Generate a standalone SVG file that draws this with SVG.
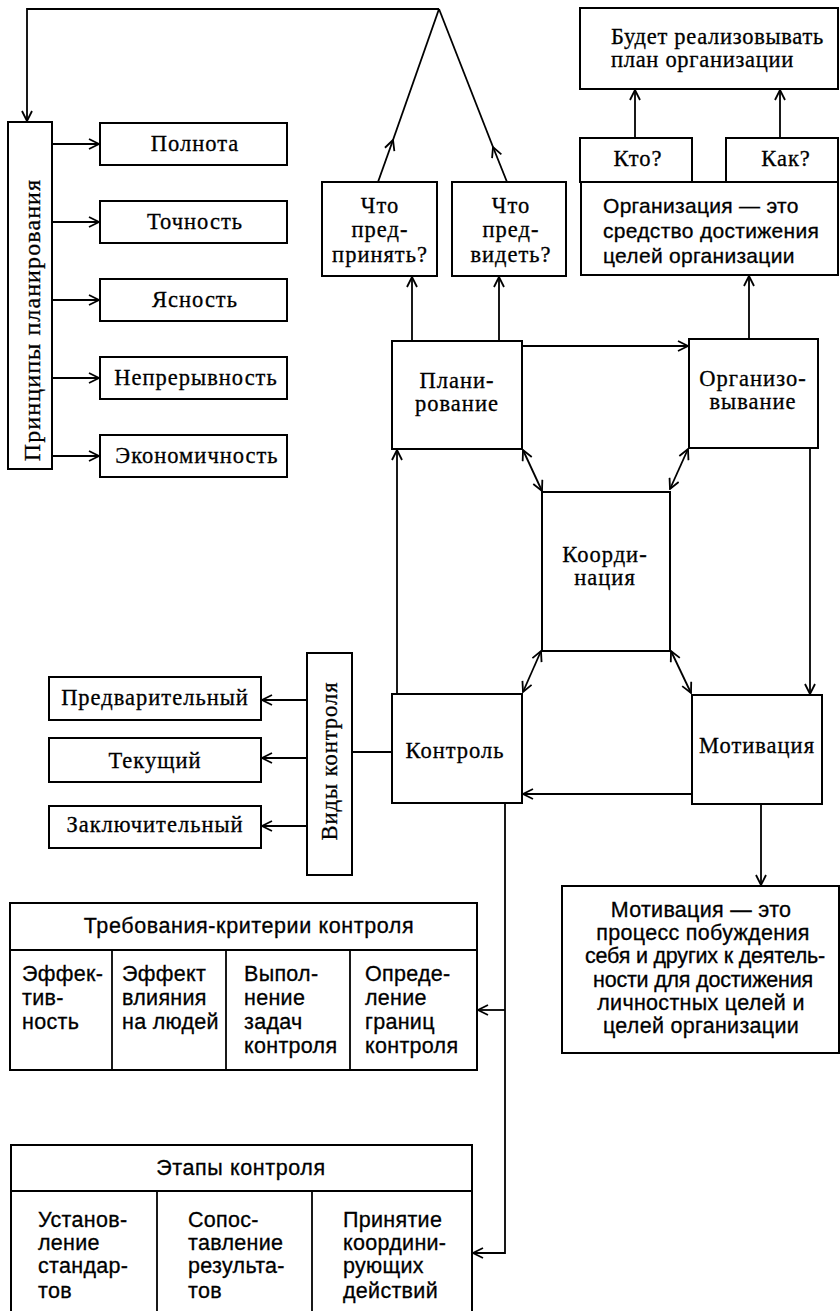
<svg xmlns="http://www.w3.org/2000/svg" width="840" height="1311" viewBox="0 0 840 1311">
  <style>
    .box { fill: #fff; stroke: #000; stroke-width: 2; }
    .ln { fill: none; stroke: #000; stroke-width: 1.8; }
    text { fill: #000; stroke: #000; stroke-width: 0.3; }
    .sf { font-family: "Liberation Serif", "DejaVu Serif", serif; font-size: 22.5px; letter-spacing: 1px; }
    .ss { font-family: "Liberation Sans", "DejaVu Sans", sans-serif; font-size: 21.5px; letter-spacing: 0.3px; }
    .so { font-family: "Liberation Sans", "DejaVu Sans", sans-serif; font-size: 21px; letter-spacing: 0.3px; }
    .c { text-anchor: middle; }
    .tight { letter-spacing: -0.2px; }
  </style>
  <defs>
    <marker id="arr" viewBox="0 0 12 12" refX="11" refY="6" markerWidth="12" markerHeight="12" markerUnits="userSpaceOnUse" orient="auto-start-reverse">
      <path d="M1,1 L11,6 L1,11" fill="none" stroke="#000" stroke-width="1.8"/>
    </marker>
  </defs>

  <rect width="840" height="1311" fill="#fff"/>

  <!-- connectors -->
  <g id="connectors">
    <!-- feedback from the two questions back to the planning principles -->
    <polyline class="ln" points="439,9 27,9 27,121" marker-end="url(#arr)"/>
    <line class="ln" x1="378" y1="182" x2="393" y2="140" marker-end="url(#arr)"/>
    <line class="ln" x1="393" y1="140" x2="439" y2="9"/>
    <line class="ln" x1="507" y1="182" x2="493" y2="147" marker-end="url(#arr)"/>
    <line class="ln" x1="493" y1="147" x2="439" y2="9"/>

    <!-- principles -> items -->
    <line class="ln" x1="53" y1="144" x2="99" y2="144" marker-end="url(#arr)"/>
    <line class="ln" x1="53" y1="222" x2="99" y2="222" marker-end="url(#arr)"/>
    <line class="ln" x1="53" y1="300" x2="99" y2="300" marker-end="url(#arr)"/>
    <line class="ln" x1="53" y1="378" x2="99" y2="378" marker-end="url(#arr)"/>
    <line class="ln" x1="53" y1="456" x2="99" y2="456" marker-end="url(#arr)"/>

    <!-- planning -> questions -->
    <line class="ln" x1="412" y1="341" x2="412" y2="277" marker-end="url(#arr)"/>
    <line class="ln" x1="499" y1="341" x2="499" y2="277" marker-end="url(#arr)"/>

    <!-- organisation block -->
    <line class="ln" x1="635" y1="138" x2="635" y2="90" marker-end="url(#arr)"/>
    <line class="ln" x1="780" y1="138" x2="780" y2="90" marker-end="url(#arr)"/>
    <line class="ln" x1="749" y1="339" x2="749" y2="276" marker-end="url(#arr)"/>

    <!-- main cycle -->
    <line class="ln" x1="522" y1="346" x2="688" y2="346" marker-end="url(#arr)"/>
    <line class="ln" x1="810" y1="448" x2="810" y2="694" marker-end="url(#arr)"/>
    <line class="ln" x1="692" y1="794" x2="523" y2="794" marker-end="url(#arr)"/>
    <line class="ln" x1="397" y1="694" x2="397" y2="450" marker-end="url(#arr)"/>

    <!-- coordination links -->
    <line class="ln" x1="523" y1="450" x2="542" y2="491" marker-start="url(#arr)" marker-end="url(#arr)"/>
    <line class="ln" x1="688" y1="449" x2="670" y2="489" marker-start="url(#arr)" marker-end="url(#arr)"/>
    <line class="ln" x1="541" y1="651" x2="523" y2="692" marker-start="url(#arr)" marker-end="url(#arr)"/>
    <line class="ln" x1="671" y1="651" x2="691" y2="693" marker-start="url(#arr)" marker-end="url(#arr)"/>

    <!-- motivation -> definition -->
    <line class="ln" x1="761" y1="804" x2="761" y2="885" marker-end="url(#arr)"/>

    <!-- control -> kinds of control -->
    <line class="ln" x1="352" y1="752" x2="392" y2="752"/>
    <line class="ln" x1="307" y1="700" x2="262" y2="700" marker-end="url(#arr)"/>
    <line class="ln" x1="307" y1="758" x2="262" y2="758" marker-end="url(#arr)"/>
    <line class="ln" x1="307" y1="826" x2="262" y2="826" marker-end="url(#arr)"/>

    <!-- control -> requirements and stages -->
    <polyline class="ln" points="505,803 505,1253 473,1253" marker-end="url(#arr)"/>
    <line class="ln" x1="505" y1="1010" x2="478" y2="1010" marker-end="url(#arr)"/>
  </g>

  <!-- planning principles -->
  <g id="principles">
    <rect class="box" x="8" y="122" width="44" height="347"/>
    <text class="sf c" style="font-size:24px;letter-spacing:1.1px" transform="translate(40,320) rotate(-90)">Принципы  планирования</text>
  </g>
  <g id="p-completeness">
    <rect class="box" x="100" y="123" width="187" height="42"/>
    <text class="sf c" x="195" y="151">Полнота</text>
  </g>
  <g id="p-accuracy">
    <rect class="box" x="100" y="201" width="187" height="42"/>
    <text class="sf c" x="195" y="229">Точность</text>
  </g>
  <g id="p-clarity">
    <rect class="box" x="100" y="279" width="187" height="42"/>
    <text class="sf c" x="195" y="307">Ясность</text>
  </g>
  <g id="p-continuity">
    <rect class="box" x="100" y="357" width="187" height="42"/>
    <text class="sf c" x="196" y="385">Непрерывность</text>
  </g>
  <g id="p-economy">
    <rect class="box" x="100" y="435" width="187" height="42"/>
    <text class="sf c" x="197" y="463">Экономичность</text>
  </g>

  <!-- questions of planning -->
  <g id="q-undertake">
    <rect class="box" x="322" y="182" width="115" height="94"/>
    <text class="sf c" x="380" y="213">Что</text>
    <text class="sf c" x="380" y="237">пред-</text>
    <text class="sf c" x="380" y="262">принять?</text>
  </g>
  <g id="q-foresee">
    <rect class="box" x="452" y="182" width="114" height="94"/>
    <text class="sf c" x="511" y="213">Что</text>
    <text class="sf c" x="511" y="237">пред-</text>
    <text class="sf c" x="511" y="262">видеть?</text>
  </g>

  <!-- organisation block -->
  <g id="implement">
    <rect class="box" x="580" y="8" width="258" height="81"/>
    <text class="sf" style="letter-spacing:0.7px" x="611" y="44">Будет реализовывать</text>
    <text class="sf" style="letter-spacing:0.7px" x="611" y="67">план организации</text>
  </g>
  <g id="who">
    <rect class="box" x="580" y="138" width="112" height="44"/>
    <text class="sf c" x="638" y="166">Кто?</text>
  </g>
  <g id="how">
    <rect class="box" x="726" y="138" width="112" height="44"/>
    <text class="sf c" x="786" y="166">Как?</text>
  </g>
  <g id="org-definition">
    <rect class="box" x="581" y="182" width="257" height="93"/>
    <text class="so" x="603" y="213">Организация  —  это</text>
    <text class="so" x="603" y="238">средство достижения</text>
    <text class="so" x="603" y="263">целей  организации</text>
  </g>

  <!-- management functions -->
  <g id="planning">
    <rect class="box" x="392" y="341" width="130" height="108"/>
    <text class="sf c" x="457" y="388">Плани-</text>
    <text class="sf c" x="457" y="411">рование</text>
  </g>
  <g id="organizing">
    <rect class="box" x="689" y="339" width="129" height="109"/>
    <text class="sf c" x="753" y="386">Организо-</text>
    <text class="sf c" x="753" y="409">вывание</text>
  </g>
  <g id="coordination">
    <rect class="box" x="542" y="492" width="128" height="159"/>
    <text class="sf c" x="605" y="562">Коорди-</text>
    <text class="sf c" x="605" y="585">нация</text>
  </g>
  <g id="control">
    <rect class="box" x="392" y="694" width="130" height="109"/>
    <text class="sf c" x="455" y="758">Контроль</text>
  </g>
  <g id="motivation">
    <rect class="box" x="692" y="695" width="130" height="109"/>
    <text class="sf c" x="757" y="753">Мотивация</text>
  </g>

  <!-- kinds of control -->
  <g id="control-kinds">
    <rect class="box" x="307" y="653" width="45" height="222"/>
    <text class="sf c" transform="translate(337,761) rotate(-90)">Виды  контроля</text>
  </g>
  <g id="k-preliminary">
    <rect class="box" x="49" y="677" width="212" height="43"/>
    <text class="sf c" x="155" y="705">Предварительный</text>
  </g>
  <g id="k-current">
    <rect class="box" x="49" y="738" width="212" height="44"/>
    <text class="sf c" x="155" y="768">Текущий</text>
  </g>
  <g id="k-final">
    <rect class="box" x="49" y="806" width="212" height="42"/>
    <text class="sf c" x="155" y="832">Заключительный</text>
  </g>

  <!-- motivation definition -->
  <g id="motivation-definition">
    <rect class="box" x="562" y="886" width="277" height="167"/>
    <text class="ss c" x="701" y="917">Мотивация  —  это</text>
    <text class="ss c" x="703" y="940">процесс  побуждения</text>
    <text class="ss c tight" x="705" y="963">себя и других к деятель-</text>
    <text class="ss c tight" x="703" y="987">ности для достижения</text>
    <text class="ss c" x="701" y="1010">личностных целей и</text>
    <text class="ss c" x="701" y="1033">целей  организации</text>
  </g>

  <!-- control requirements -->
  <g id="requirements">
    <rect class="box" x="10" y="903" width="467" height="167"/>
    <line class="ln" x1="10" y1="950" x2="477" y2="950"/>
    <line class="ln" x1="112" y1="950" x2="112" y2="1070"/>
    <line class="ln" x1="226" y1="950" x2="226" y2="1070"/>
    <line class="ln" x1="350" y1="950" x2="350" y2="1070"/>
    <text class="ss c" style="letter-spacing:0.6px" x="249" y="933">Требования-критерии  контроля</text>
    <text class="ss" x="22" y="981">Эффек-</text>
    <text class="ss" x="22" y="1005">тив-</text>
    <text class="ss" x="22" y="1029">ность</text>
    <text class="ss" x="122" y="981">Эффект</text>
    <text class="ss" x="122" y="1005">влияния</text>
    <text class="ss" x="122" y="1029">на людей</text>
    <text class="ss" x="244" y="981">Выпол-</text>
    <text class="ss" x="244" y="1005">нение</text>
    <text class="ss" x="244" y="1029">задач</text>
    <text class="ss" x="244" y="1053">контроля</text>
    <text class="ss" x="365" y="981">Опреде-</text>
    <text class="ss" x="365" y="1005">ление</text>
    <text class="ss" x="365" y="1029">границ</text>
    <text class="ss" x="365" y="1053">контроля</text>
  </g>

  <!-- control stages -->
  <g id="stages">
    <rect class="box" x="11" y="1145" width="461" height="170"/>
    <line class="ln" x1="11" y1="1191" x2="472" y2="1191"/>
    <line class="ln" x1="157" y1="1191" x2="157" y2="1311"/>
    <line class="ln" x1="312" y1="1191" x2="312" y2="1311"/>
    <text class="ss c" style="letter-spacing:0.6px" x="241" y="1175">Этапы  контроля</text>
    <text class="ss" x="38" y="1227">Установ-</text>
    <text class="ss" x="38" y="1250">ление</text>
    <text class="ss" x="38" y="1273">стандар-</text>
    <text class="ss" x="38" y="1298">тов</text>
    <text class="ss" x="188" y="1227">Сопос-</text>
    <text class="ss" x="188" y="1250">тавление</text>
    <text class="ss" x="188" y="1273">результа-</text>
    <text class="ss" x="188" y="1298">тов</text>
    <text class="ss" x="343" y="1227">Принятие</text>
    <text class="ss" x="343" y="1250">координи-</text>
    <text class="ss" x="343" y="1273">рующих</text>
    <text class="ss" x="343" y="1298">действий</text>
  </g>
</svg>
